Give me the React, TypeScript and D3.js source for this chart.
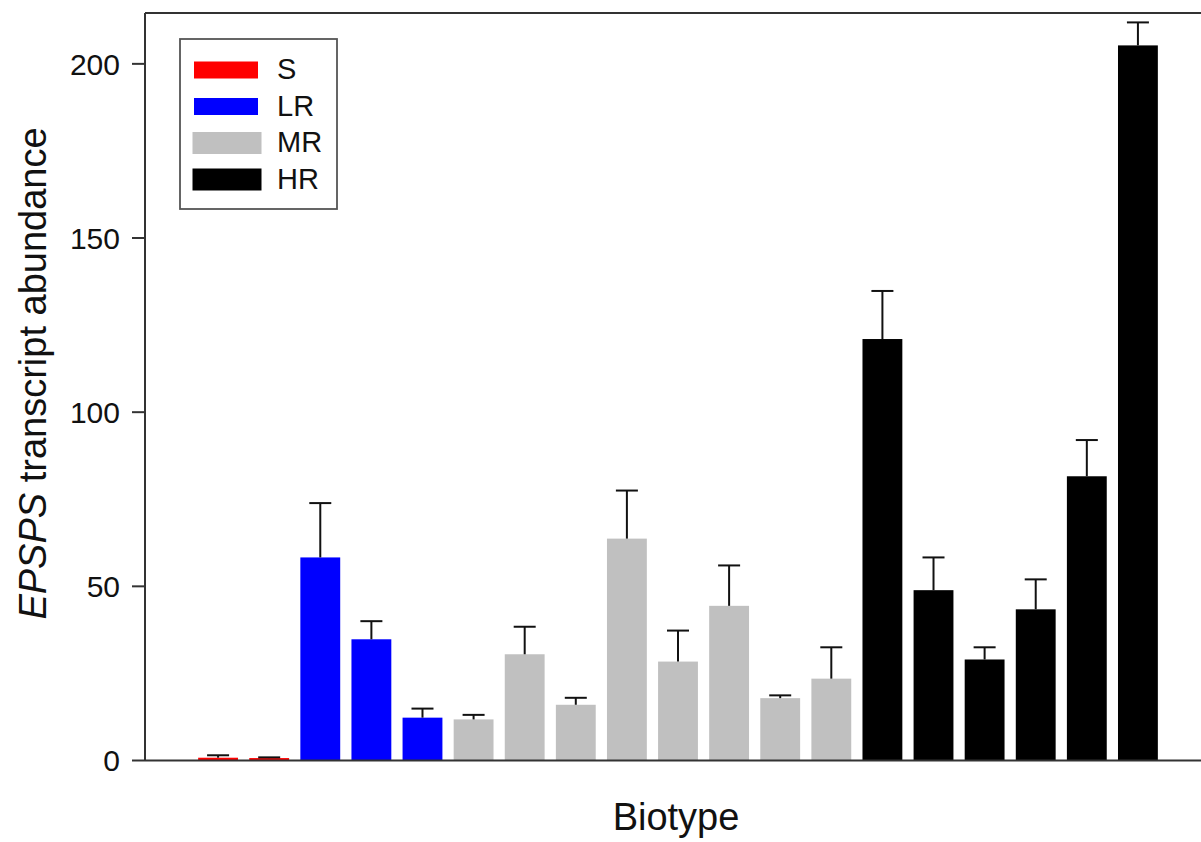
import React from "react";
import * as d3 from "d3";

const biotypes = ["S1","S2","LR1","LR2","LR3","MR1","MR2","MR3","MR4","MR5","MR6","MR7","MR8","HR1","HR2","HR3","HR4","HR5","HR6"];
const groups = ["S","S","LR","LR","LR","MR","MR","MR","MR","MR","MR","MR","MR","HR","HR","HR","HR","HR","HR"];
const means = [0.8,0.7,58.3,34.8,12.3,11.8,30.5,16.0,63.7,28.4,44.4,17.9,23.5,121.0,48.9,29.0,43.4,81.6,205.3];
const upper = [1.5,0.9,73.9,40.0,14.9,13.1,38.4,18.0,77.5,37.3,56.0,18.7,32.5,134.8,58.3,32.5,52.0,92.0,211.9];
const yTicks = [0,50,100,150,200];
const legendKeys = ["S","LR","MR","HR"];
const groupColors = ["#ff0000","#0000ff","#c0c0c0","#000000"];

export default function App() {
  const W = 1201, H = 842;
  const left = 145, right = 1211, top = 13, bottom = 760.5;
  const x = d3.scaleBand<string>().domain(biotypes).range([left, right]).paddingInner(0.22).paddingOuter(1.04);
  const y = d3.scaleLinear().domain([0, 214.6]).range([bottom, top]);
  const color = d3.scaleOrdinal<string, string>().domain(legendKeys).range(groupColors);
  const bw = x.bandwidth();
  const font = "Arial, 'Liberation Sans', sans-serif";
  const legendSw = [
    { w: 64, h: 17, x: 194 },
    { w: 64, h: 17, x: 194 },
    { w: 69, h: 22, x: 192.5 },
    { w: 69, h: 22, x: 192.5 },
  ];
  const legendY = d3.scaleLinear().domain([0, 3]).range([70, 179.5]);
  return (
    <svg width={W} height={H} style={{ position: "absolute", left: 0, top: 0, background: "#fff" }} fontFamily={font}>
      {biotypes.map((b, i) => (
        <rect key={b} x={x(b)} y={y(means[i])} width={bw} height={y(0) - y(means[i])} fill={color(groups[i])} />
      ))}
      {biotypes.map((b, i) => {
        const cx = (x(b) as number) + bw / 2;
        return (
          <g key={"e" + b} stroke="#111" strokeWidth={2}>
            <line x1={cx} x2={cx} y1={y(means[i])} y2={y(upper[i])} />
            <line x1={cx - 11} x2={cx + 11} y1={y(upper[i])} y2={y(upper[i])} />
          </g>
        );
      })}
      <g stroke="#333" strokeWidth={2} fill="none">
        <line x1={left} x2={left} y1={top} y2={bottom} />
        <line x1={left} x2={W + 20} y1={top} y2={top} />
        <line x1={left} x2={W + 20} y1={bottom} y2={bottom} />
      </g>
      {yTicks.map((t) => (
        <g key={t}>
          <line x1={132} x2={left} y1={y(t)} y2={y(t)} stroke="#333" strokeWidth={2} />
          <text x={120} y={y(t)} dy="0.36em" textAnchor="end" fontSize={30} fill="#111">{t}</text>
        </g>
      ))}
      <text transform={`translate(46,${(125 + 622) / 2}) rotate(-90)`} textAnchor="middle" fontSize={38} fill="#111">
        <tspan fontStyle="italic">EPSPS</tspan> transcript abundance
      </text>
      <text x={676} y={830} textAnchor="middle" fontSize={38} fill="#111">Biotype</text>
      <rect x={180} y={39} width={157} height={170} fill="#fff" stroke="#555" strokeWidth={1.8} />
      {legendKeys.map((k, i) => {
        const cy = legendY(i);
        const s = legendSw[i];
        return (
          <g key={k}>
            <rect x={s.x} y={cy - s.h / 2} width={s.w} height={s.h} fill={color(k)} />
            <text x={277} y={cy + 9} fontSize={29} fill="#111">{k}</text>
          </g>
        );
      })}
    </svg>
  );
}
